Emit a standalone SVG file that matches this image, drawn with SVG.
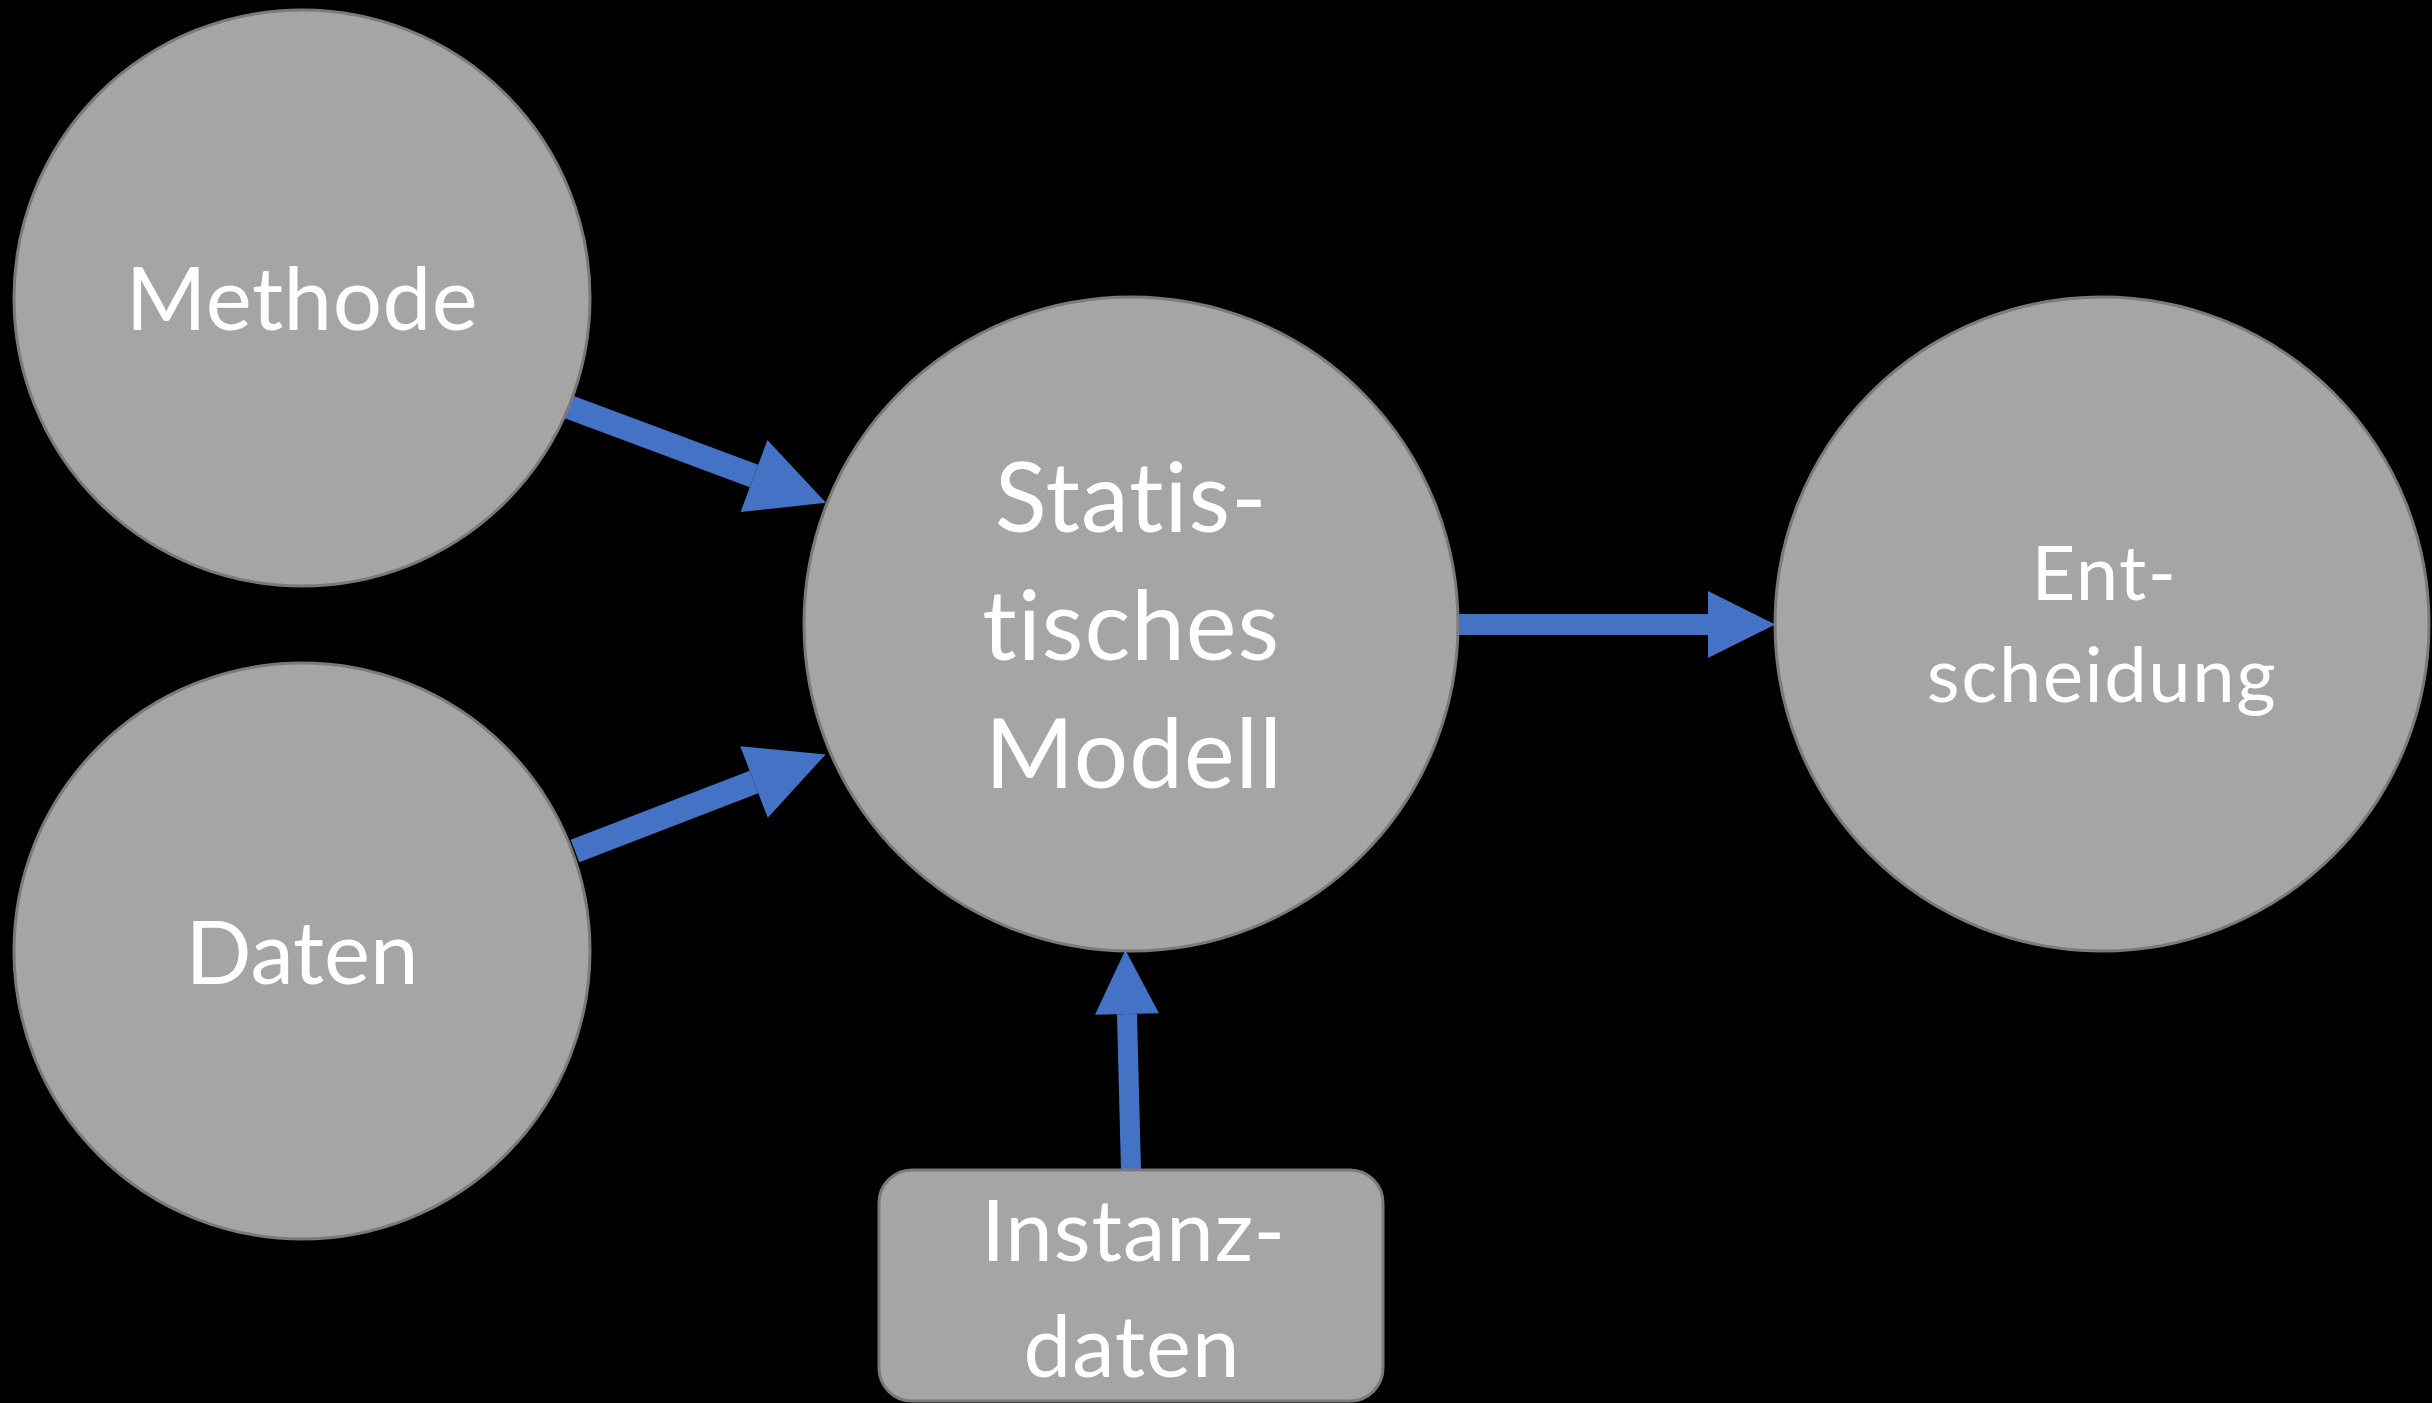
<svg xmlns="http://www.w3.org/2000/svg" width="2432" height="1403" viewBox="0 0 2432 1403">
  <style>
    .node { fill: #A5A5A5; stroke: #7A7A7A; stroke-width: 3; }
    .label { fill: #FFFFFF; font-family: Lato, "Noto Sans", "Liberation Sans", sans-serif; text-anchor: middle; font-variant-ligatures: none; font-feature-settings: "liga" 0, "clig" 0; }
    .edge { stroke: #4472C4; fill: none; stroke-linecap: butt; marker-end: url(#head); }
  </style>
  <defs>
    <marker id="head" markerUnits="strokeWidth" markerWidth="4" markerHeight="4" viewBox="0 -2 4 4" refX="0" refY="0" orient="auto" overflow="visible">
      <path d="M0,-1.6 L3.2,0 L0,1.6 Z" fill="#4472C4"/>
    </marker>
  </defs>
  <rect width="2432" height="1403" fill="#000000"/>

  <g id="connectors">
    <line class="edge" x1="569" y1="407" x2="754" y2="476" stroke-width="24"/>
    <line class="edge" x1="575" y1="851" x2="754" y2="782" stroke-width="24"/>
    <line class="edge" x1="1457" y1="624.5" x2="1708" y2="624.5" stroke-width="21"/>
    <line class="edge" x1="1131" y1="1171" x2="1127" y2="1014" stroke-width="20"/>
  </g>

  <g id="methode">
    <circle class="node" cx="302" cy="298" r="288"/>
    <text class="label" x="302" y="330" font-size="87" letter-spacing="0.5">Methode</text>
  </g>

  <g id="daten">
    <circle class="node" cx="302" cy="951" r="288"/>
    <text class="label" x="302" y="984" font-size="87">Daten</text>
  </g>

  <g id="statistisches-modell">
    <circle class="node" cx="1131" cy="624" r="327"/>
    <text class="label" font-size="96" letter-spacing="1">
      <tspan x="1144" y="532">Statis-</tspan>
      <tspan x="1144" y="660">tisches</tspan>
      <tspan x="1134" y="788">Modell</tspan>
    </text>
  </g>

  <g id="entscheidung">
    <circle class="node" cx="2102" cy="624" r="327"/>
    <text class="label" font-size="76" letter-spacing="1.5">
      <tspan x="2115" y="600">Ent-</tspan>
      <tspan x="2102" y="702">scheidung</tspan>
    </text>
  </g>

  <g id="instanzdaten">
    <rect class="node" x="879" y="1170" width="504" height="231" rx="33"/>
    <text class="label" font-size="85" letter-spacing="1">
      <tspan x="1145" y="1261">Instanz-</tspan>
      <tspan x="1132" y="1377">daten</tspan>
    </text>
  </g>
</svg>
